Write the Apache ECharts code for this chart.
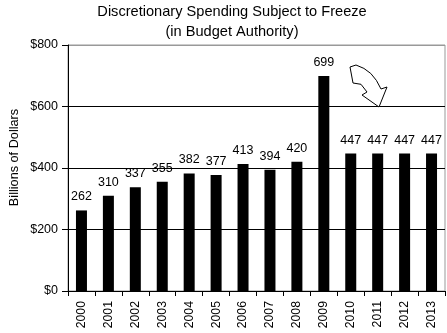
<!DOCTYPE html>
<html>
<head>
<meta charset="utf-8">
<script src="https://cdn.jsdelivr.net/npm/echarts@6/dist/echarts.min.js"></script>
<style>
html,body{margin:0;padding:0;background:#fff;}
#c{width:447px;height:333px;}
</style>
</head>
<body>
<div id="c"></div>
<script>
const years = ['2000','2001','2002','2003','2004','2005','2006','2007','2008','2009','2010','2011','2012','2013'];
const spending = [262,310,337,355,382,377,413,394,420,699,447,447,447,447];
const yTicks = [0,200,400,600,800];
const titleLines = ['Discretionary Spending Subject to Freeze','(in Budget Authority)'];
const yAxisTitle = 'Billions of Dollars';

const FONT = 'Liberation Sans, Arial, sans-serif';
const chart = echarts.init(document.getElementById('c'), null, {renderer:'canvas'});
chart.setOption({
  animation:false,
  backgroundColor:'#fff',
  title:{
    text: titleLines.join('\n'),
    left: 227, top: -3, textAlign:'center',
    textStyle:{fontFamily:FONT,fontSize:14.6,fontWeight:'normal',color:'#000',lineHeight:20}
  },
  grid:{left:68,right:2,top:45,bottom:42,show:true,borderColor:'#999',borderWidth:1,containLabel:false,outerBoundsMode:'none'},
  xAxis:{
    type:'category', data:years,
    axisLine:{show:true,lineStyle:{color:'#000',width:1}},
    axisTick:{show:true,alignWithLabel:false,length:5,lineStyle:{color:'#000'}},
    axisLabel:{rotate:90,margin:10,fontFamily:FONT,fontSize:12.3,color:'#000'}
  },
  yAxis:{
    type:'value', min:yTicks[0], max:yTicks[yTicks.length-1], interval:200,
    axisLine:{show:true,lineStyle:{color:'#000',width:1}},
    axisTick:{show:true,length:6,lineStyle:{color:'#000'}},
    axisLabel:{margin:10,fontFamily:FONT,fontSize:12.5,color:'#000',formatter:v=>'$'+v},
    splitLine:{show:true,lineStyle:{color:['#000','#000','#000','#000','#999'],width:1}}
  },
  series:[{
    type:'bar', data:spending, barWidth:11,
    itemStyle:{color:'#000'},
    label:{show:true,position:'top',distance:7,fontFamily:FONT,fontSize:12.5,color:'#000'}
  }],
  graphic:[{
    type:'text', silent:true, x:14, y:157.5, rotation:Math.PI/2,
    style:{text:yAxisTitle,font:'12.7px '+FONT,fill:'#000',textAlign:'center',textVerticalAlign:'middle'}
  },{
    type:'polygon', silent:true, z:100,
    shape:{points:[[350,67],[356,65],[363.9,68.4],[370.8,73.5],[376.4,80.4],[381,89],[387,87],[379,107],[362,95],[367,92],[361,84.3],[353,83]]},
    style:{fill:'#fff',stroke:'#000',lineWidth:1}
  }]
});
</script>
</body>
</html>
